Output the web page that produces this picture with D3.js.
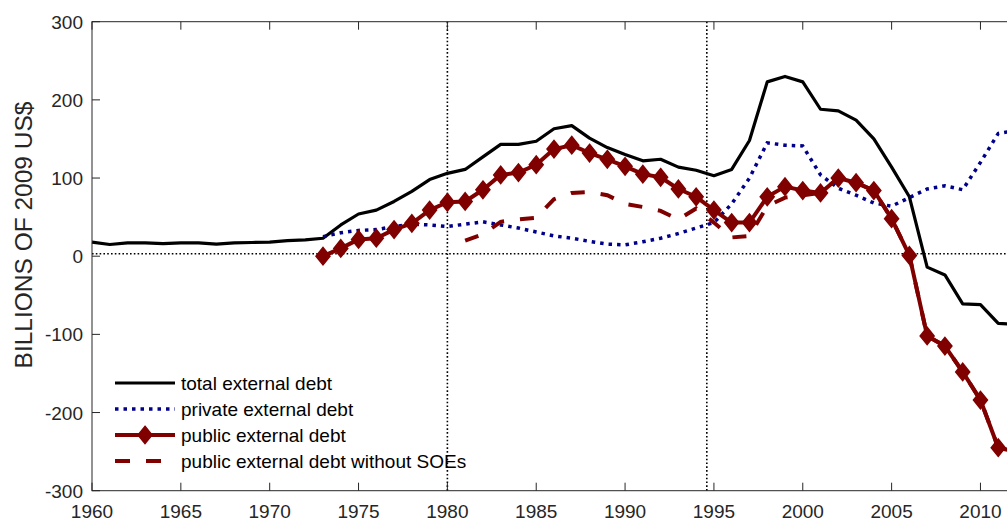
<!DOCTYPE html>
<html><head><meta charset="utf-8">
<script src="https://cdn.jsdelivr.net/npm/d3@7"></script>
<style>body{margin:0;background:#fff;} svg{display:block;font-family:"Liberation Sans",Arial,sans-serif;}</style>
</head><body><svg id="c" width="1007" height="520"></svg>
<script>
const years = [1960,1961,1962,1963,1964,1965,1966,1967,1968,1969,1970,1971,1972,1973,1974,1975,1976,1977,1978,1979,1980,1981,1982,1983,1984,1985,1986,1987,1988,1989,1990,1991,1992,1993,1994,1995,1996,1997,1998,1999,2000,2001,2002,2003,2004,2005,2006,2007,2008,2009,2010,2011,2012];
const totalDebt = [18,15,17,17,16,17,17,15.5,17,17.5,18,20,21,23,40,54,59,70,83,98,106,111,127,143,143,147,163,167,151,139,130,122,124,114,110,103,111,148,223,230,223,188,186,174,150,114,76,-14,-24,-61,-62,-86,-87];
const privateYears = [1973,1974,1975,1976,1977,1978,1979,1980,1981,1982,1983,1984,1985,1986,1987,1988,1989,1990,1991,1992,1993,1994,1995,1996,1997,1998,1999,2000,2001,2002,2003,2004,2005,2006,2007,2008,2009,2010,2011,2012];
const privateDebt = [25,30,33,34,38,41,40,38,41,44,40,36,31,26,23,19,15.5,14.5,18.5,23,29,36,43,67,100,145,142,141,104,87,78,68,64,75,86,90,85,120,157,161];
const publicYears = privateYears;
const publicDebt = [0,10,21.5,23,34,42,59,69,70,85,104,107,117,137,142,132,124,115,105,101,86,76,59,43,43,76,89,84,81,100,94,84,48,1,-102,-115,-148,-184,-245,-250];
const noSoeYears = [1981,1982,1983,1984,1985,1986,1987,1988,1989,1990,1991,1992,1993,1994,1995,1996,1997,1998,1999,2000,2001,2002,2003,2004,2005,2006,2007,2008,2009,2010,2011,2012];
const noSoeDebt = [20,28,44,47,49,73,81,82,78,67,63,58,47,61,43,24,26,64,75,78,81,100,94,84,48,1,-102,-115,-148,-184,-245,-250];
const xTicks = [1960,1965,1970,1975,1980,1985,1990,1995,2000,2005,2010];
const yTicks = [-300,-200,-100,0,100,200,300];
const refYears = [1980,1994.6];
const legendLabels = ["total external debt","private external debt","public external debt","public external debt without SOEs"];

const svg = d3.select("#c");
const L=92, R=1016, T=21.7, B=490.7;
const x = d3.scaleLinear().domain([1960,2012]).range([L,R]);
const y = d3.scaleLinear().domain([-300,300]).range([B,T]);
const axisCol="#262626", RED="#800000", BLUE="#00008b";

// reference dotted lines
svg.append("line").attr("x1",L).attr("x2",R).attr("y1",y(0)-2.5).attr("y2",y(0)-2.5)
  .attr("stroke","#000").attr("stroke-width",1.6).attr("stroke-dasharray","1.6,2.2");
refYears.forEach(v=>{
  svg.append("line").attr("x1",x(v)).attr("x2",x(v)).attr("y1",T).attr("y2",B)
   .attr("stroke","#000").attr("stroke-width",1.6).attr("stroke-dasharray","1.6,2.2");
});

function series(xs, vs){ return xs.map((d,i)=>({x:d,y:vs[i]})); }
const line = d3.line().x(d=>x(d.x)).y(d=>y(d.y));

const g = svg.append("g");
g.append("path").datum(series(years,totalDebt)).attr("d",line).attr("fill","none")
  .attr("stroke","#000").attr("stroke-width",3.2).attr("stroke-linejoin","round");
g.append("path").datum(series(privateYears,privateDebt)).attr("d",line).attr("fill","none")
  .attr("stroke",BLUE).attr("stroke-width",3.5).attr("stroke-dasharray","3.5,5");
g.append("path").datum(series(noSoeYears,noSoeDebt)).attr("d",line).attr("fill","none")
  .attr("stroke",RED).attr("stroke-width",4).attr("stroke-dasharray","14,16");
g.append("path").datum(series(publicYears,publicDebt)).attr("d",line).attr("fill","none")
  .attr("stroke",RED).attr("stroke-width",4).attr("stroke-linejoin","round");

const diamond = {draw(ctx,size){const h=Math.sqrt(size)*0.62, w=Math.sqrt(size)*0.5; ctx.moveTo(0,-h);ctx.lineTo(w,0);ctx.lineTo(0,h);ctx.lineTo(-w,0);ctx.closePath();}};
const sym = d3.symbol().type(diamond).size(196);
g.selectAll("path.mk").data(series(publicYears,publicDebt)).join("path").attr("class","mk")
  .attr("transform",d=>`translate(${x(d.x)},${y(d.y)})`).attr("d",sym)
  .attr("fill",RED).attr("stroke",RED).attr("stroke-width",1.5);

// axes box
const tl=8;
svg.append("rect").attr("x",L).attr("y",T).attr("width",R-L).attr("height",B-T)
  .attr("fill","none").attr("stroke",axisCol).attr("stroke-width",1);
const ax = svg.append("g").attr("stroke",axisCol).attr("stroke-width",1);
xTicks.forEach(t=>{
  ax.append("line").attr("x1",x(t)).attr("x2",x(t)).attr("y1",B).attr("y2",B-tl);
  ax.append("line").attr("x1",x(t)).attr("x2",x(t)).attr("y1",T).attr("y2",T+tl);
});
yTicks.forEach(t=>{
  ax.append("line").attr("x1",L).attr("x2",L+tl).attr("y1",y(t)).attr("y2",y(t));
  ax.append("line").attr("x1",R).attr("x2",R-tl).attr("y1",y(t)).attr("y2",y(t));
});
svg.append("g").selectAll("text").data(xTicks).join("text")
  .attr("x",d=>x(d)).attr("y",B+27).attr("text-anchor","middle")
  .attr("font-size",19).attr("fill",axisCol).text(d=>d);
svg.append("g").selectAll("text").data(yTicks).join("text")
  .attr("x",L-9).attr("y",d=>y(d)+7).attr("text-anchor","end")
  .attr("font-size",19).attr("fill",axisCol).text(d=>d);
svg.append("text").attr("transform",`translate(32,235) rotate(-90)`)
  .attr("text-anchor","middle").attr("font-size",24.5).attr("fill",axisCol)
  .text("BILLIONS OF 2009 US$");

// legend
const lg = svg.append("g");
const rows=[383,409,435,461];
const lx1=115,lx2=175;
legendLabels.forEach((t,i)=>{
  const ln = lg.append("line").attr("x1",lx1).attr("x2",lx2).attr("y1",rows[i]).attr("y2",rows[i]);
  if(i===0) ln.attr("stroke","#000").attr("stroke-width",3.2);
  if(i===1) ln.attr("stroke",BLUE).attr("stroke-width",3.5).attr("stroke-dasharray","3.5,5");
  if(i===2){ ln.attr("stroke",RED).attr("stroke-width",4);
    lg.append("path").attr("transform",`translate(${(lx1+lx2)/2},${rows[i]})`).attr("d",sym).attr("fill",RED).attr("stroke",RED).attr("stroke-width",1.5); }
  if(i===3) ln.attr("stroke",RED).attr("stroke-width",4).attr("stroke-dasharray","15,16");
  lg.append("text").attr("x",181).attr("y",rows[i]+7).attr("font-size",19).attr("fill","#000").text(t);
});
</script></body></html>
